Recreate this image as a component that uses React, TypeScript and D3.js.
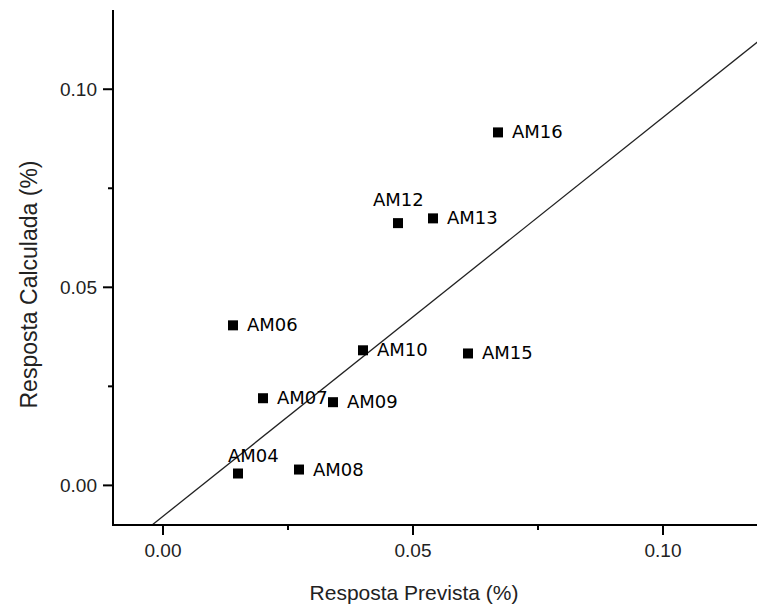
import React from "react";
import * as d3 from "d3";

// Sample identifiers with predicted (x) and calculated (y) responses, in %
const samples = ["AM04", "AM06", "AM07", "AM08", "AM09", "AM10", "AM12", "AM13", "AM15", "AM16"];
const predicted = [0.015, 0.014, 0.02, 0.0272, 0.034, 0.04, 0.047, 0.054, 0.061, 0.067];
const calculated = [0.003, 0.0404, 0.022, 0.004, 0.021, 0.0341, 0.0662, 0.0674, 0.0333, 0.0891];

// Reference line y = intercept + slope * x
const lineIntercept = -0.0078;
const lineSlope = 1.007;

const xTicks = [0, 0.05, 0.1];
const xMinorTicks = [0.025, 0.075];
const yTicks = [0, 0.05, 0.1];
const yMinorTicks = [0.025, 0.075];

const W = 757;
const H = 607;

// Label offsets (px) from the marker centre: most sit to the right, two above
const labelOffset: Record<string, [number, number]> = {
  AM04: [-10, -12],
  AM12: [-25, -17],
};
const defaultOffset: [number, number] = [14, 6];

export default function App() {
  const x = d3.scaleLinear().domain([-0.01, 0.12]).range([113, 763]);
  const y = d3.scaleLinear().domain([-0.01, 0.12]).range([525, 10]);
  const fmt = d3.format(".2f");

  const [d0, d1] = x.domain();
  const linePath = d3
    .line<number>()
    .x((v) => x(v))
    .y((v) => y(lineIntercept + lineSlope * v))([d0, d1]);

  const axisFont = "'Liberation Sans', Arial, sans-serif";
  const labelFont = "'DejaVu Sans', sans-serif";
  const [xl] = x.range();
  const [yb, yt] = y.range();

  return (
    <div style={{ position: "absolute", left: 0, top: 0 }}>
      <svg width={W} height={H} style={{ display: "block", background: "#fff" }}>
        <defs>
          <clipPath id="plot-area">
            <rect x={xl} y={yt} width={W - xl} height={yb - yt} />
          </clipPath>
        </defs>

        <path d={linePath ?? ""} fill="none" stroke="#222" strokeWidth={1.3} clipPath="url(#plot-area)" />

        {/* axes */}
        <line x1={xl} x2={xl} y1={yt} y2={yb + 1} stroke="#000" strokeWidth={2} />
        <line x1={xl - 1} x2={W} y1={yb} y2={yb} stroke="#000" strokeWidth={2} />

        {xTicks.map((t) => (
          <g key={"xt" + t}>
            <line x1={x(t)} x2={x(t)} y1={yb} y2={yb + 10} stroke="#000" strokeWidth={2} />
            <text x={x(t)} y={557} textAnchor="middle" fontFamily={axisFont} fontSize={19} fill="#222">
              {fmt(t)}
            </text>
          </g>
        ))}
        {xMinorTicks.map((t) => (
          <line key={"xm" + t} x1={x(t)} x2={x(t)} y1={yb} y2={yb + 5} stroke="#000" strokeWidth={2} />
        ))}
        {yTicks.map((t) => (
          <g key={"yt" + t}>
            <line x1={xl - 10} x2={xl} y1={y(t)} y2={y(t)} stroke="#000" strokeWidth={2} />
            <text x={97} y={y(t) + 7} textAnchor="end" fontFamily={axisFont} fontSize={19} fill="#222">
              {fmt(t)}
            </text>
          </g>
        ))}
        {yMinorTicks.map((t) => (
          <line key={"ym" + t} x1={xl - 5} x2={xl} y1={y(t)} y2={y(t)} stroke="#000" strokeWidth={2} />
        ))}

        <text x={414} y={600} textAnchor="middle" fontFamily={axisFont} fontSize={21} fill="#222">
          Resposta Prevista (%)
        </text>
        <text
          transform={`translate(37,284.5) rotate(-90)`}
          textAnchor="middle"
          fontFamily={axisFont}
          fontSize={23}
          fill="#222"
        >
          Resposta Calculada (%)
        </text>

        {samples.map((s, i) => {
          const cx = x(predicted[i]);
          const cy = y(calculated[i]);
          const [dx, dy] = labelOffset[s] ?? defaultOffset;
          return (
            <g key={s}>
              <rect x={cx - 5} y={cy - 5} width={10} height={10} fill="#000" />
              <text x={cx + dx} y={cy + dy} fontFamily={labelFont} fontSize={18} fill="#000">
                {s}
              </text>
            </g>
          );
        })}
      </svg>
    </div>
  );
}
